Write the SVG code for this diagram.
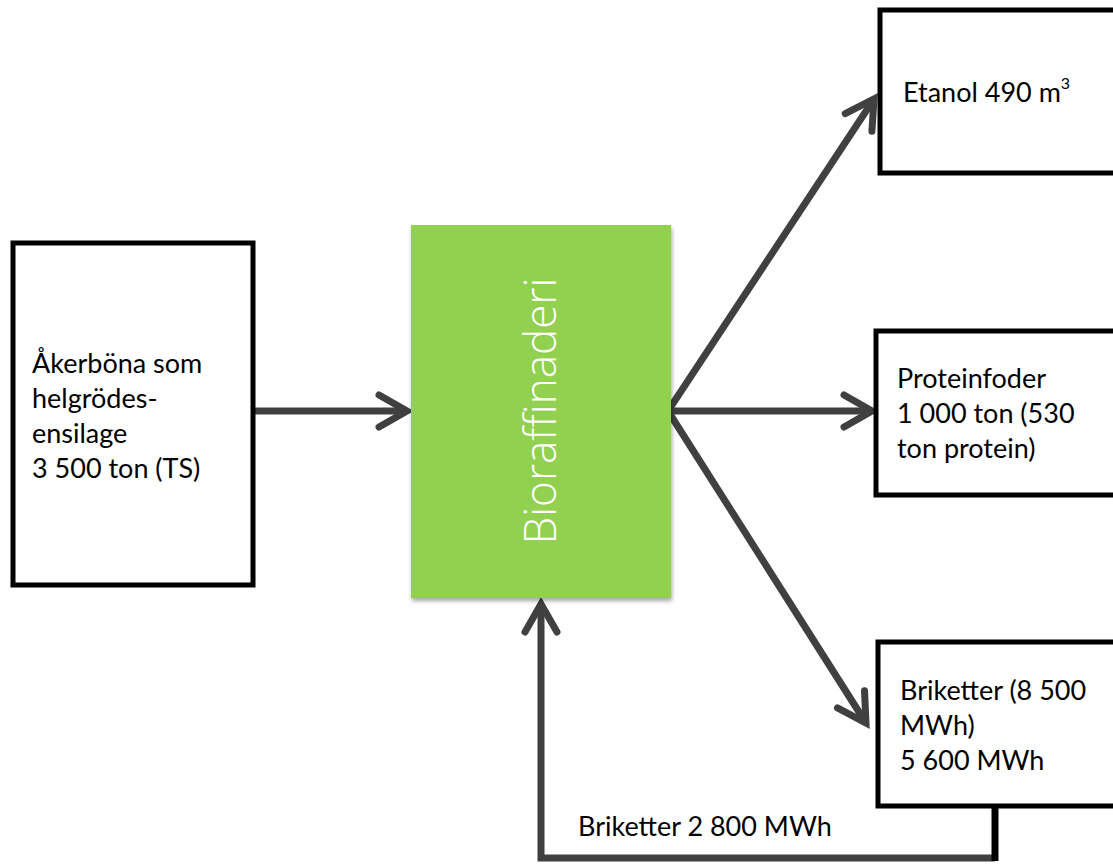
<svg xmlns="http://www.w3.org/2000/svg" width="1113" height="865" viewBox="0 0 1113 865">
<defs>
<style>
.box{fill:#fff;stroke:#000;stroke-width:5}
.t{font-family:Lato,"Open Sans","Liberation Sans",sans-serif;font-size:27px;fill:#000}
.conn{fill:none;stroke:#404040;stroke-width:7;stroke-linejoin:miter}
</style>
<marker id="arr" markerUnits="userSpaceOnUse" markerWidth="50" markerHeight="50" viewBox="-40 -25 50 50" refX="0" refY="0" orient="auto">
<path d="M-28,-16 L0,0 L-28,16" fill="none" stroke="#404040" stroke-width="7" stroke-linecap="round" stroke-linejoin="miter"/>
</marker>
<filter id="sh" x="-10%" y="-10%" width="130%" height="130%">
<feGaussianBlur in="SourceAlpha" stdDeviation="2"/>
<feOffset dx="1" dy="3"/>
<feComponentTransfer><feFuncA type="linear" slope="0.35"/></feComponentTransfer>
<feMerge><feMergeNode/><feMergeNode in="SourceGraphic"/></feMerge>
</filter>
</defs>
<rect width="1113" height="865" fill="#fff"/>
<g id="connectors">
<line class="conn" x1="255" y1="411" x2="407" y2="411" marker-end="url(#arr)"/>
<line class="conn" x1="668" y1="411" x2="874" y2="99" marker-end="url(#arr)"/>
<line class="conn" x1="668" y1="411" x2="872" y2="411" marker-end="url(#arr)"/>
<line class="conn" x1="668" y1="411" x2="866" y2="723" marker-end="url(#arr)"/>
<polyline class="conn" points="995,858 541,858 541,604" marker-end="url(#arr)"/>
<line x1="995" y1="806" x2="995" y2="861" stroke="#000" stroke-width="7"/>
<text class="t" x="578" y="836">Briketter 2 800 MWh</text>
</g>
<g id="source">
<rect class="box" x="13" y="243" width="240" height="342"/>
<text class="t" x="32" y="373">Åkerböna som</text>
<text class="t" x="32" y="408">helgrödes-</text>
<text class="t" x="32" y="443">ensilage</text>
<text class="t" x="32" y="478">3 500 ton (TS)</text>
</g>
<g id="biorefinery">
<rect x="411" y="225" width="260" height="373" fill="#92D050" filter="url(#sh)"/>
<text x="0" y="0" transform="translate(556,411) rotate(-90)" text-anchor="middle" font-family="'Open Sans','Liberation Sans',sans-serif" font-weight="300" font-size="44" fill="#fff">Bioraffinaderi</text>
</g>
<g id="etanol">
<rect class="box" x="880" y="10" width="240" height="163"/>
<text class="t" x="903" y="102">Etanol 490 m<tspan font-size="16" dy="-13">3</tspan></text>
</g>
<g id="protein">
<rect class="box" x="876" y="331" width="240" height="164"/>
<text class="t" x="897" y="388">Proteinfoder</text>
<text class="t" x="897" y="423">1 000 ton (530</text>
<text class="t" x="897" y="458">ton protein)</text>
</g>
<g id="briketter">
<rect class="box" x="878" y="642" width="240" height="164"/>
<text class="t" x="900" y="700">Briketter (8 500</text>
<text class="t" x="900" y="735">MWh)</text>
<text class="t" x="900" y="770">5 600 MWh</text>
</g>
</svg>
